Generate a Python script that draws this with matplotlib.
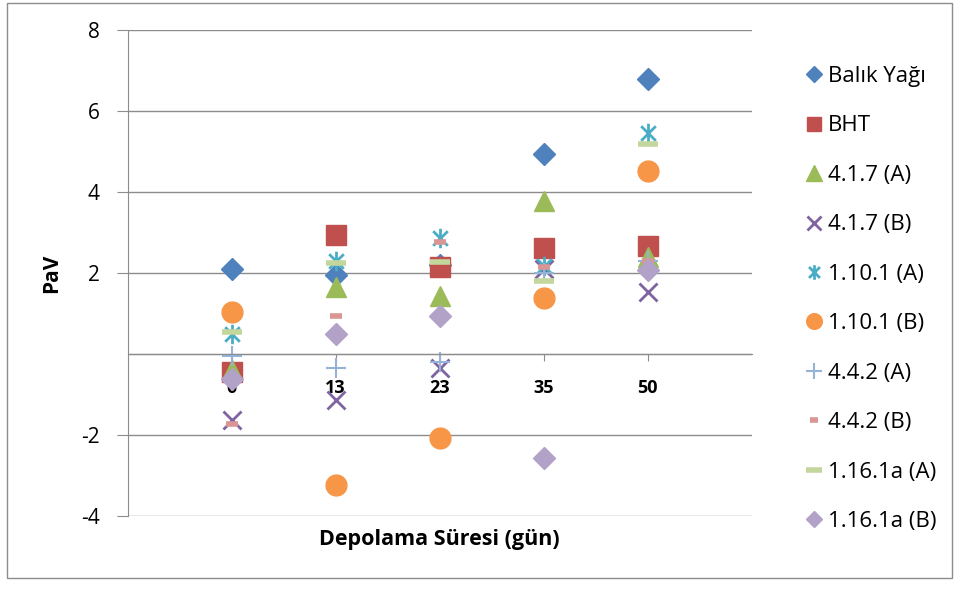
import matplotlib.pyplot as plt
from matplotlib.path import Path
from matplotlib.patches import Rectangle

plt.rcParams['font.family'] = ['Open Sans', 'DejaVu Sans']
plt.rcParams['axes.unicode_minus'] = False

# depolama suresi (gun)
gunler = ["0", "13", "23", "35", "50"]
x = [1, 2, 3, 4, 5]

balik_yagi = [2.1, 1.95, 2.2, 4.93, 6.8]
bht = [-0.45, 2.95, 2.14, 2.62, 2.66]
a417 = [-0.4, 1.65, 1.43, 3.77, 2.4]
b417 = [-1.62, -1.13, -0.33, 2.1, 1.53]
a1101 = [0.5, 2.3, 2.88, 2.17, 5.47]
b1101 = [1.03, -3.23, -2.07, 1.38, 4.53]
a442 = [-0.05, -0.35, -0.2, 2.0, 2.3]
b442 = [-1.72, 0.95, 2.76, 2.14, 2.3]
a1161 = [0.55, 2.25, 2.27, 1.8, 5.2]
b1161 = [-0.6, 0.5, 0.94, -2.56, 2.07]

# excel tarzi yildiz isareti
yildiz = Path([(0, -1), (0, 1), (-0.75, -0.75), (0.75, 0.75), (-0.75, 0.75), (0.75, -0.75)],
              [Path.MOVETO, Path.LINETO, Path.MOVETO, Path.LINETO, Path.MOVETO, Path.LINETO])

seriler = [
    ("Balık Yağı", balik_yagi, dict(marker="D", ms=11, color="#4F81BD")),
    ("BHT", bht, dict(marker="s", ms=14, color="#C0504D")),
    ("4.1.7 (A)", a417, dict(marker="^", ms=15, color="#9BBB59")),
    ("4.1.7 (B)", b417, dict(marker="x", ms=13, mew=2, color="#8064A2")),
    ("1.10.1 (A)", a1101, dict(marker=yildiz, ms=14, mew=2, color="#4BACC6")),
    ("1.10.1 (B)", b1101, dict(marker="o", ms=15, color="#F79646")),
    ("4.4.2 (A)", a442, dict(marker="+", ms=15, mew=1.5, color="#95B3D7")),
    ("4.4.2 (B)", b442, dict(marker="_", ms=8, mew=4, color="#D99694")),
    ("1.16.1a (A)", a1161, dict(marker="_", ms=15, mew=4, color="#C3D69B")),
    ("1.16.1a (B)", b1161, dict(marker="D", ms=11, color="#B3A2C7")),
]

fig = plt.figure(figsize=(9.6, 5.9), dpi=100)
ax = fig.add_axes([0.133, 0.125, 0.65, 0.824])

for ad, y, st in seriler:
    ax.plot(x, y, linestyle="none", label=ad, **st)

ax.set_xlim(0, 6)
ax.set_ylim(-4, 8)
ax.set_yticks([-4, -2, 2, 4, 6, 8])
ax.yaxis.grid(True, color="#8c8c8c", linewidth=1)
ax.axhline(0, color="#8c8c8c", linewidth=1, zorder=0.5)
ax.set_axisbelow(True)

ax.spines["top"].set_visible(False)
ax.spines["right"].set_visible(False)
ax.spines["left"].set_color("#8c8c8c")
ax.spines["bottom"].set_position(("data", 0))
ax.spines["bottom"].set_color("#8c8c8c")
ax.set_xticks(x)
ax.set_xticklabels(gunler, fontweight="bold", fontsize=13)
ax.tick_params(axis="x", length=5, color="#8c8c8c", pad=13)
ax.tick_params(axis="y", length=8, color="#8c8c8c", labelsize=15, pad=12)

ax.set_ylabel("PaV", fontweight="bold", fontsize=15, labelpad=14)
fig.text(0.458, 0.085, "Depolama Süresi (gün)", fontweight="bold", fontsize=15.5,
         ha="center", va="center")

fig.legend(loc="upper left", bbox_to_anchor=(0.818, 0.922), frameon=False,
           fontsize=16, labelspacing=1.28, handlelength=0.8, handletextpad=0.2,
           markerscale=0.75)

fig.patches.append(Rectangle((0.007, 0.02), 0.985, 0.975, transform=fig.transFigure,
                             fill=False, edgecolor="#8c8c8c", linewidth=1))

plt.savefig("out.png", dpi=100)
